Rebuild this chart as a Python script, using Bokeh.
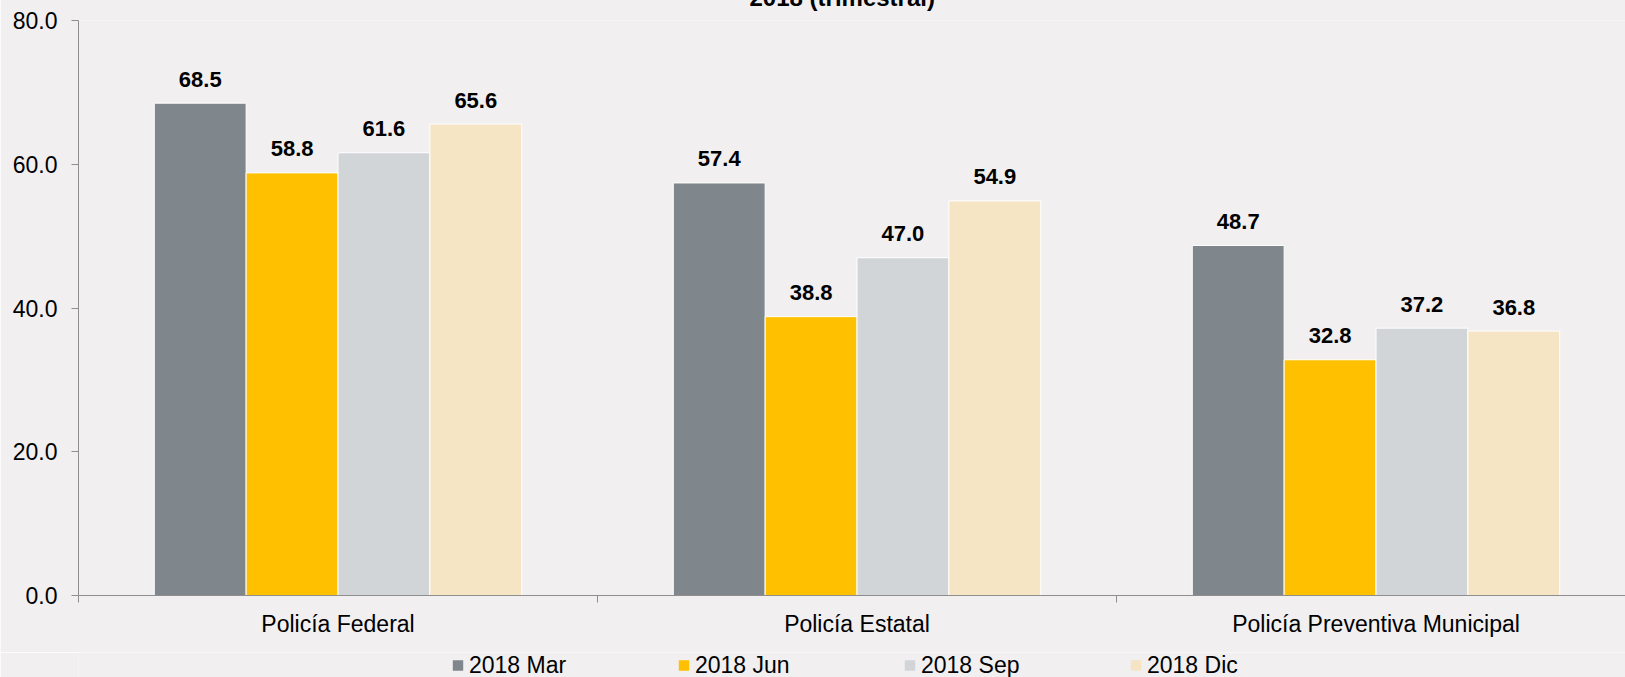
import numpy as np
from bokeh.plotting import figure
from bokeh.layouts import column
from bokeh.models import (Range1d, FixedTicker, NumeralTickFormatter, Legend,
                          LegendItem, ColumnDataSource)
from bokeh.embed import file_html
from bokeh.resources import INLINE
from bokeh.core.properties import value

# ---- data ----
categories = ["Policía Federal", "Policía Estatal", "Policía Preventiva Municipal"]
series = ["2018 Mar", "2018 Jun", "2018 Sep", "2018 Dic"]
mar = [68.5, 57.4, 48.7]
jun = [58.8, 38.8, 32.8]
sep = [61.6, 47.0, 37.2]
dic = [65.6, 54.9, 36.8]
y_ticks = [0, 20, 40, 60, 80]
title_text = "2018 (trimestral)"

values_by_series = [mar, jun, sep, dic]
colors = ["#7F868C", "#FFC000", "#D2D5D8", "#F5E5C4"]

FONT = "Liberation Sans"
BG = "#F1EFF0"
AXIS = "#8E8E8E"

p = figure(width=1625, height=692, output_backend="svg", toolbar_location=None,
           x_range=Range1d(0, 2.9807), y_range=Range1d(0, 80),
           min_border_left=78, min_border_right=0, min_border_top=60,
           min_border_bottom=57)
p.background_fill_color = BG
p.border_fill_color = BG
p.outline_line_color = None
p.xgrid.visible = False
p.ygrid.visible = False

# title (only its lower part shows at the top edge, as in the reference)
p.title.text = title_text
p.title.align = "left"
p.title.offset = 671
p.title.standoff = 19
p.title.text_font = FONT
p.title.text_font_style = "bold"
p.title.text_font_size = "24px"
p.title.text_color = "#000000"

# legend strip below the chart (its frame aligns with the chart's frame);
# its ranges keep the swatch renderers' bars out of view
leg = figure(width=1625, height=25, output_backend="svg", toolbar_location=None,
             x_range=Range1d(-20, -19), y_range=Range1d(-20, -19),
             x_axis_type=None, y_axis_type=None,
             min_border_left=0, min_border_right=0, min_border_top=0,
             min_border_bottom=0)
leg.background_fill_color = BG
leg.border_fill_color = BG
leg.outline_line_color = None
leg.xgrid.visible = False
leg.ygrid.visible = False

w = 0.177
centers = np.arange(len(categories)) + 0.5
items = []
for i, (name, vals, col) in enumerate(zip(series, values_by_series, colors)):
    src = ColumnDataSource(dict(
        x=centers + (i - 1.5) * w,
        top=vals,
        lab=["%.1f" % v for v in vals],
    ))
    p.vbar(x="x", top="top", width=w, source=src, fill_color=col,
           line_color="white", line_width=1)
    p.text(x="x", y="top", text="lab", source=src, y_offset=-24,
           text_align="center", text_baseline="alphabetic",
           text_font=value(FONT), text_font_style="bold",
           text_font_size="22px", text_color="#000000")
    # same series in the legend strip (outside its visible range) for the swatch
    r = leg.vbar(x="x", top="top", width=w, source=src, fill_color=col,
                 line_color=None)
    items.append(LegendItem(label=name, renderers=[r]))

legend = Legend(items=items, orientation="horizontal", location="left",
                glyph_width=13, glyph_height=13, label_standoff=5,
                label_width=208, spacing=0, padding=0, margin=373,
                border_line_color=None, background_fill_alpha=0,
                inactive_fill_alpha=0,
                label_text_font=FONT, label_text_font_size="23px",
                label_text_color="#000000")
leg.add_layout(legend)

# x axis
xa = p.xaxis[0]
xa.ticker = FixedTicker(ticks=list(centers), minor_ticks=list(range(len(categories) + 1)))
xa.major_label_overrides = {float(c): n for c, n in zip(centers, categories)}
xa.major_tick_line_color = None
xa.major_tick_out = 0
xa.major_tick_in = 0
xa.minor_tick_out = 7
xa.minor_tick_in = 0
xa.minor_tick_line_color = AXIS
xa.axis_line_color = AXIS
xa.major_label_standoff = 8
xa.major_label_text_font = FONT
xa.major_label_text_font_size = "23px"
xa.major_label_text_color = "#000000"

# y axis
ya = p.yaxis[0]
ya.ticker = FixedTicker(ticks=y_ticks, minor_ticks=[])
ya.formatter = NumeralTickFormatter(format="0.0")
ya.major_tick_out = 7
ya.major_tick_in = 0
ya.major_tick_line_color = AXIS
ya.minor_tick_line_color = None
ya.axis_line_color = AXIS
ya.major_label_standoff = 14
ya.major_label_text_font = FONT
ya.major_label_text_font_size = "23px"
ya.major_label_text_color = "#000000"

root = column(p, leg, spacing=0)
root.styles = {"position": "absolute", "left": "0px", "top": "-40px"}

open("out.html", "w").write(file_html(root, INLINE))
